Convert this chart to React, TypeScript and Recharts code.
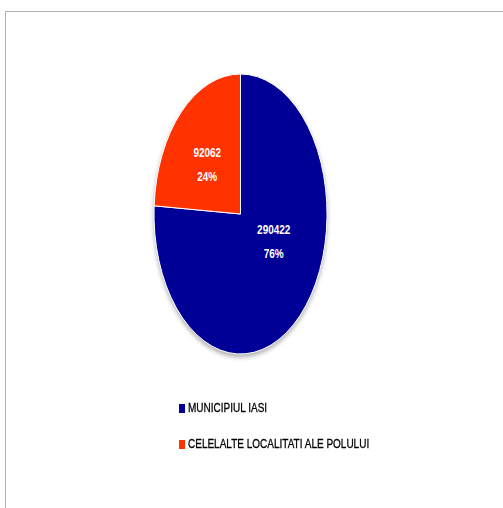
import { PieChart, Pie, Cell, Legend } from 'recharts';

const categories = ['MUNICIPIUL IASI', 'CELELALTE LOCALITATI ALE POLULUI'];
const populatie = [290422, 92062];
const culori = ['#000096', '#FF3300'];

const data = categories.map((name, i) => ({ name, value: populatie[i] }));

const RAD = Math.PI / 180;
const SQUASH = 0.618; // the original pie is drawn narrower than it is tall
const FONT = '"Liberation Sans", Arial, sans-serif';

const EllipseSector = (props: any) => {
  const { cx, cy, outerRadius, startAngle, endAngle, fill } = props;
  const rx = outerRadius * SQUASH;
  const ry = outerRadius;
  const pt = (a: number) => [cx + rx * Math.cos(-a * RAD), cy + ry * Math.sin(-a * RAD)];
  const [x0, y0] = pt(startAngle);
  const [x1, y1] = pt(endAngle);
  const large = Math.abs(endAngle - startAngle) > 180 ? 1 : 0;
  const sweep = startAngle > endAngle ? 1 : 0;
  const d = `M${cx},${cy} L${x0},${y0} A${rx},${ry} 0 ${large} ${sweep} ${x1},${y1} Z`;
  return <path d={d} fill={fill} stroke="#ffffff" strokeWidth={1} />;
};

const renderLabel = (props: any) => {
  const { cx, cy, midAngle, outerRadius, value, percent } = props;
  const x = cx + 0.56 * outerRadius * SQUASH * Math.cos(-midAngle * RAD);
  const y = cy + 0.381 * outerRadius * Math.sin(-midAngle * RAD) - 11;
  const style = { fontFamily: FONT, fontWeight: 700, fontSize: 13.5 };
  return (
    <g>
      <text transform={`translate(${x},${y - 12}) scale(0.74,1)`} fill="#fff" textAnchor="middle" dominantBaseline="central" style={style}>
        {value}
      </text>
      <text transform={`translate(${x},${y + 12}) scale(0.74,1)`} fill="#fff" textAnchor="middle" dominantBaseline="central" style={style}>
        {`${Math.round(percent * 100)}%`}
      </text>
    </g>
  );
};

const renderLegend = () => (
  <ul style={{ margin: 0, padding: 0, listStyle: 'none' }}>
    {categories.map((c, i) => (
      <li key={c} style={{ display: 'flex', alignItems: 'center', height: 24, marginBottom: 12 }}>
        <span style={{ display: 'inline-block', width: 6, height: 9, background: culori[i], marginRight: 3 }} />
        <span
          style={{
            display: 'inline-block',
            fontFamily: FONT,
            fontSize: 12.5,
            color: '#000',
            whiteSpace: 'nowrap',
            WebkitTextStroke: '0.3px #000',
            transform: 'scaleX(0.8)',
            transformOrigin: 'left center',
          }}
        >
          {c}
        </span>
      </li>
    ))}
  </ul>
);

export default function App() {
  return (
    <div style={{ position: 'absolute', left: 0, top: 0, width: 503, height: 508, background: '#fff', overflow: 'hidden' }}>
      <style>{'.pie-umbra { filter: drop-shadow(0px 3px 2px rgba(0,0,0,0.3)); }'}</style>
      <div style={{ position: 'absolute', left: 5, top: 11, width: 520, height: 520, borderTop: '1px solid #b0b0b0', borderLeft: '1px solid #b0b0b0' }} />
      <PieChart width={503} height={508} margin={{ top: 0, right: 0, bottom: 0, left: 0 }} style={{ position: 'absolute', left: 0, top: 0 }}>
        <Pie
          data={data}
          dataKey="value"
          nameKey="name"
          className="pie-umbra"
          cx={240.5}
          cy={214}
          outerRadius={140}
          startAngle={90}
          endAngle={-270}
          shape={EllipseSector}
          label={renderLabel}
          labelLine={false}
          isAnimationActive={false}
        >
          {data.map((d, i) => (
            <Cell key={d.name} fill={culori[i]} />
          ))}
        </Pie>
        <Legend
          layout="horizontal"
          verticalAlign="bottom"
          align="left"
          content={renderLegend}
          wrapperStyle={{ left: 179, top: 396, bottom: 'auto', width: 300 }}
        />
      </PieChart>
    </div>
  );
}
